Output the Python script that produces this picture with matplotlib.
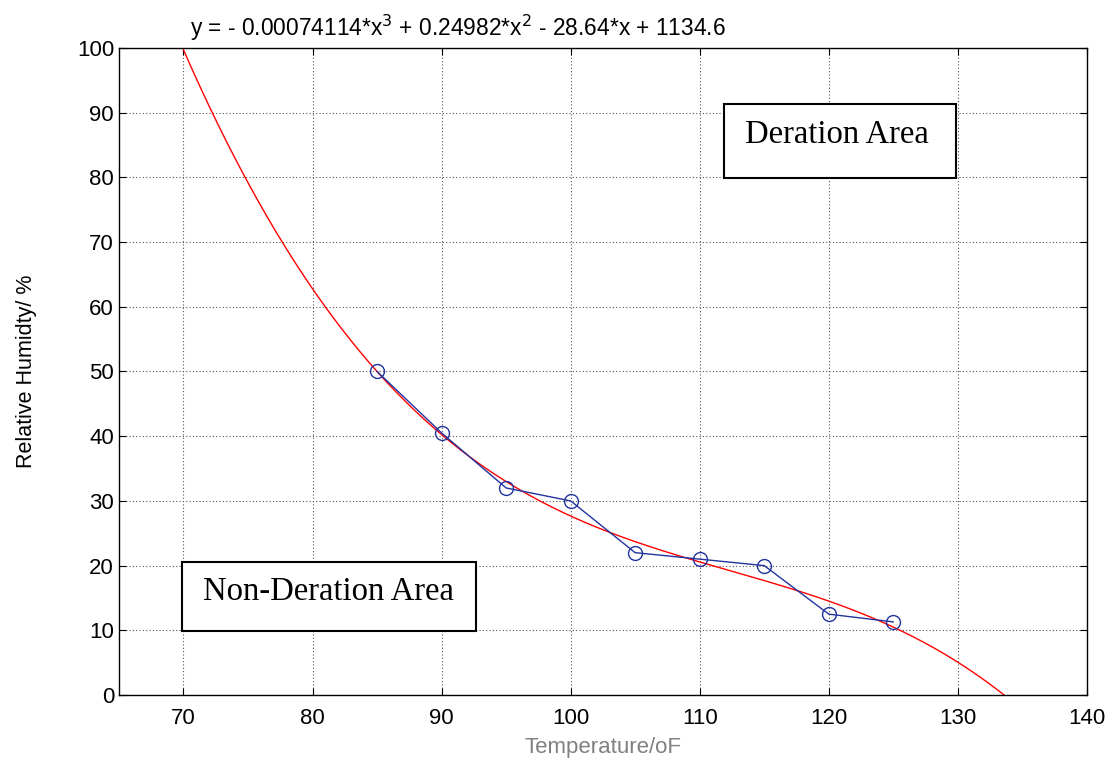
import numpy as np
import matplotlib.pyplot as plt
from matplotlib.patches import Rectangle

plt.rcParams['font.family'] = ['Liberation Sans', 'DejaVu Sans']

# measured points
temp = [85, 90, 95, 100, 105, 110, 115, 120, 125]
rh = [50, 40.5, 32, 30, 22, 21, 20, 12.5, 11.3]

# cubic fit coefficients as printed on the chart
fit_coef = [-0.00074114, 0.24982, -28.64, 1134.6]
fit_range = [70, 135]

fig = plt.figure(figsize=(11.17, 7.61), dpi=100)
ax = fig.add_axes([0.1065, 0.0867, 0.8665, 0.8503])

xs = np.linspace(fit_range[0], fit_range[1], 400)
ax.plot(xs, np.polyval(fit_coef, xs), color='red', lw=1)
ax.plot(temp, rh, color='#2233a0', lw=1, marker='o', markersize=10,
        markerfacecolor='none', markeredgewidth=1)

ax.set_xlim(65, 140)
ax.set_ylim(0, 100)
ax.set_xticks(range(70, 141, 10))
ax.set_yticks(range(0, 101, 10))
ax.tick_params(direction='in', top=True, right=True, labelsize=16, length=5)
ax.tick_params(axis='x', pad=9)
ax.grid(True, color='#555555', linestyle=(0, (1, 2)), lw=0.8)
for s in ax.spines.values():
    s.set_linewidth(1)

fig.text(0.170, 0.963, 'y = - 0.00074114*x$^3$ + 0.24982*x$^2$ - 28.64*x + 1134.6',
         fontsize=16.4, ha='left', va='center')
ax.set_xlabel('Temperature/oF', fontsize=16, color='#808080', labelpad=6)
ax.set_ylabel('Relative Humidty/ %', fontsize=15.5, labelpad=29)

# annotation boxes
ax.add_patch(Rectangle((0.625, 0.799), 0.240, 0.1144, transform=ax.transAxes,
                       facecolor='white', edgecolor='black', lw=1.5, zorder=5))
ax.text(0.647, 0.8655, 'Deration Area', transform=ax.transAxes, fontsize=23.5,
        family='Liberation Serif', ha='left', va='center', zorder=6)
ax.add_patch(Rectangle((0.0651, 0.0989), 0.3037, 0.1067, transform=ax.transAxes,
                       facecolor='white', edgecolor='black', lw=1.5, zorder=5))
ax.text(0.0868, 0.159, 'Non-Deration Area', transform=ax.transAxes, fontsize=23.5,
        family='Liberation Serif', ha='left', va='center', zorder=6)

fig.savefig('out.png', dpi=100)
